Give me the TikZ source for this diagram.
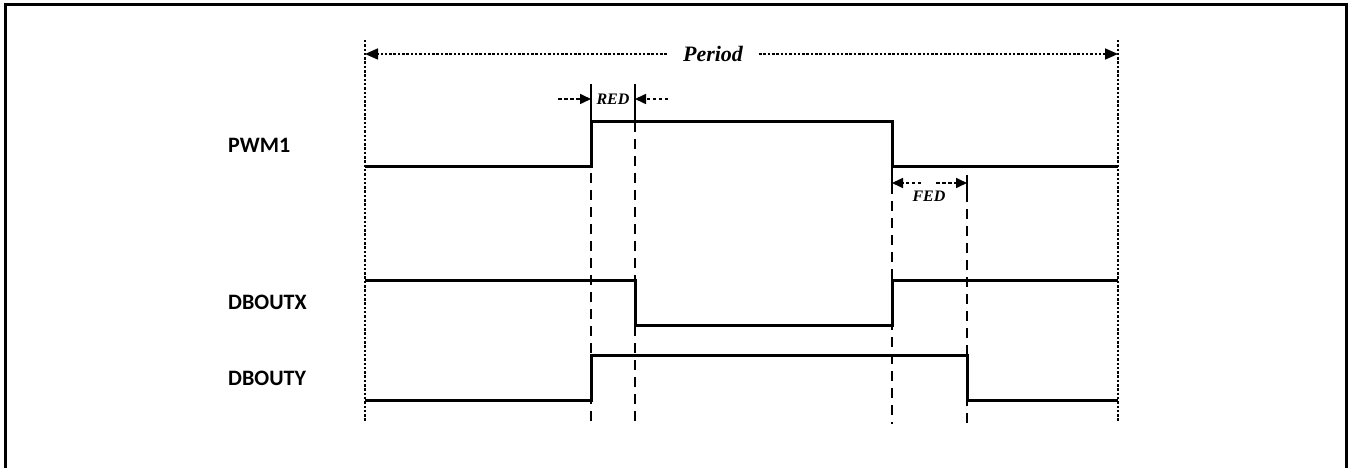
\documentclass[tikz,border=0pt]{standalone}
\usepackage{fontspec}
\setmainfont{Liberation Serif}
\newfontfamily\lblfont{Carlito}
\usetikzlibrary{arrows.meta}
\begin{document}
\begin{tikzpicture}[x=1pt,y=-1pt,
  sig/.style={line width=3pt,line join=miter},
  guide/.style={line width=1.8pt,dash pattern=on 10pt off 7pt},
  dotline/.style={line width=1.6pt,dash pattern=on 2.5pt off 1.8pt},
  dimarrow/.style={line width=1.6pt,dash pattern=on 3.5pt off 2.5pt,-{Triangle[length=11pt,width=10pt]}},
  tick/.style={line width=1.8pt},
  siglabel/.style={font=\lblfont\bfseries\fontsize{22}{25}\selectfont,anchor=west,inner sep=0pt},
  dimlabel/.style={font=\bfseries\itshape\fontsize{16}{18}\selectfont,inner sep=1pt},
]
\useasboundingbox (0,0) rectangle (1353,468);
% frame (bottom edge outside the picture)
\draw[line width=3pt] (5,475) -- (5,5) -- (1346,5) -- (1346,475);

% period limits
\coordinate (pL) at (365,40);
\coordinate (pLb) at (365,422);
\coordinate (pR) at (1118,40);
\coordinate (pRb) at (1118,422);
\draw[dotline] (pL) -- (pLb);
\draw[dotline] (pR) -- (pRb);
\node[font=\bfseries\itshape\fontsize{22}{26}\selectfont,inner xsep=16pt,inner ysep=2pt] (per) at (713,54) {Period};
\draw[dotline,-{Triangle[length=13pt,width=11pt]}] (per.west) -- (365,54);
\draw[dotline,-{Triangle[length=13pt,width=11pt]}] (per.east) -- (1118,54);

% labels
\node[siglabel] (l1) at (228,145) {PWM1};
\node[siglabel] (l2) at (228,302) {DBOUTX};
\node[siglabel] (l3) at (228,378) {DBOUTY};

% guide lines
\draw[guide] (591,122) -- (591,424);
\draw[guide] (635,122) -- (635,424);
\draw[guide] (892,167) -- (892,424);
\draw[guide] (967,175) -- (967,424);

% signals
\draw[sig] (365,167) -- (591,167) -- (591,122) -- (892,122) -- (892,167) -- (1118,167);
\draw[sig] (365,280) -- (635,280) -- (635,325) -- (892,325) -- (892,280) -- (1118,280);
\draw[sig] (365,400) -- (591,400) -- (591,355) -- (967,355) -- (967,400) -- (1118,400);

% RED
\draw[tick] (591,84) -- (591,122);
\draw[tick] (635,84) -- (635,122);
\node[dimlabel] (red) at (613,99) {RED};
\coordinate (redA) at (558,99);
\coordinate (redB) at (668,99);
\draw[dimarrow] (redA) -- (591,99);
\draw[dimarrow] (redB) -- (635,99);

% FED
\draw[tick] (892,175) -- (892,192);
\draw[tick] (967,175) -- (967,192);
\node[dimlabel] (fed) at (929,196) {FED};
\draw[dimarrow] (921,183) -- (892,183);
\draw[dimarrow] (936,183) -- (967,183);
\end{tikzpicture}
\end{document}
